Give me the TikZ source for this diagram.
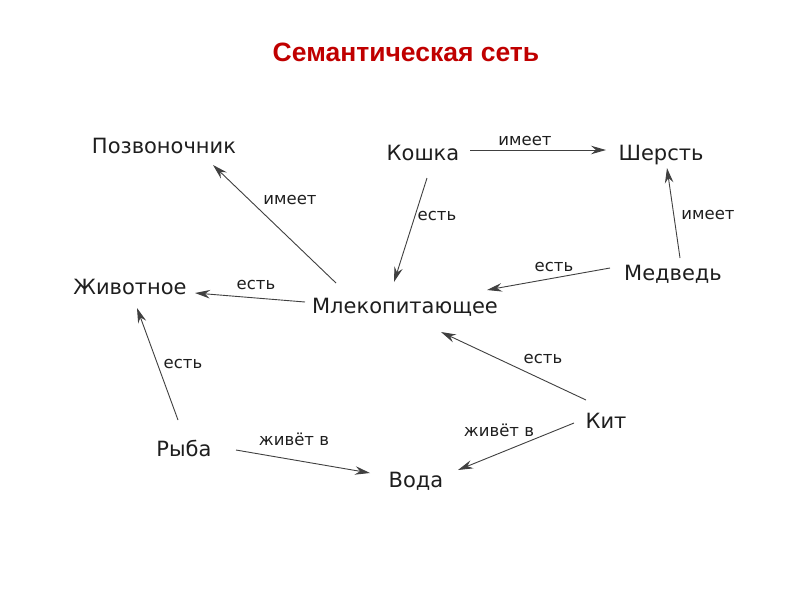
\documentclass[tikz,border=0pt]{standalone}
\usepackage{fontspec}
\setmainfont{Liberation Sans}
\newfontfamily\nodefont{DejaVu Sans}
\usetikzlibrary{arrows.meta}
\definecolor{titlered}{RGB}{192,0,0}
\definecolor{ink}{RGB}{30,30,30}
\begin{document}
\begin{tikzpicture}[x=1pt,y=-1pt,
  concept/.style={inner sep=0pt,text height=15.3pt,text depth=0pt,font=\nodefont\fontsize{21}{24}\selectfont,text=ink},
  rel/.style={inner sep=0pt,text height=9pt,text depth=0pt,font=\nodefont\fontsize{16.5}{19}\selectfont,text=ink},
  link/.style={draw=ink!85,line width=0.9pt,-{Stealth[length=15pt,width=8.5pt,inset=5pt]}}]
\useasboundingbox[fill=white] (0,0) rectangle (800,600);
\node[inner sep=0pt,text height=19pt,text depth=0pt,font=\fontsize{26.5}{30}\selectfont\bfseries,text=titlered] (title) at (406,52) {Семантическая сеть};
\node[concept] (poz) at (164,146) {Позвоночник};
\node[concept] (kosh) at (423,153) {Кошка};
\node[concept] (sher) at (661,153) {Шерсть};
\node[concept] (zhiv) at (130,287) {Животное};
\node[concept] (mlek) at (405,306) {Млекопитающее};
\node[concept] (medv) at (673,273) {Медведь};
\node[concept] (ryba) at (184,449) {Рыба};
\node[concept] (voda) at (416,480) {Вода};
\node[concept] (kit) at (606,421) {Кит};
\node[rel] (l1) at (525,141) {имеет};
\node[rel] (l2) at (437,216) {есть};
\node[rel] (l3) at (290,200) {имеет};
\node[rel] (l4) at (256,285) {есть};
\node[rel] (l5) at (708,215) {имеет};
\node[rel] (l6) at (554,267) {есть};
\node[rel] (l7) at (543,359) {есть};
\node[rel] (l8) at (183,364) {есть};
\node[rel] (l9) at (294,441) {живёт в};
\node[rel] (l10) at (499,432) {живёт в};
\draw[link] ([shift={(47,-3)}]kosh.center) -- ([shift={(-55,-3)}]sher.center);
\draw[link] ([shift={(4,25)}]kosh.center) -- ([shift={(-11,-24)}]mlek.center);
\draw[link] ([shift={(-69,-23)}]mlek.center) -- ([shift={(49,19)}]poz.center);
\draw[link] ([shift={(-100,-4)}]mlek.center) -- ([shift={(65,6)}]zhiv.center);
\draw[link] ([shift={(7,-15)}]medv.center) -- ([shift={(6,15)}]sher.center);
\draw[link] ([shift={(-63,-5)}]medv.center) -- ([shift={(82,-16)}]mlek.center);
\draw[link] ([shift={(-20,-21)}]kit.center) -- ([shift={(36,26)}]mlek.center);
\draw[link] ([shift={(-6,-29)}]ryba.center) -- ([shift={(7,21)}]zhiv.center);
\draw[link] ([shift={(52,1)}]ryba.center) -- ([shift={(-46,-7)}]voda.center);
\draw[link] ([shift={(-32,2)}]kit.center) -- ([shift={(42,-10)}]voda.center);
\end{tikzpicture}
\end{document}
